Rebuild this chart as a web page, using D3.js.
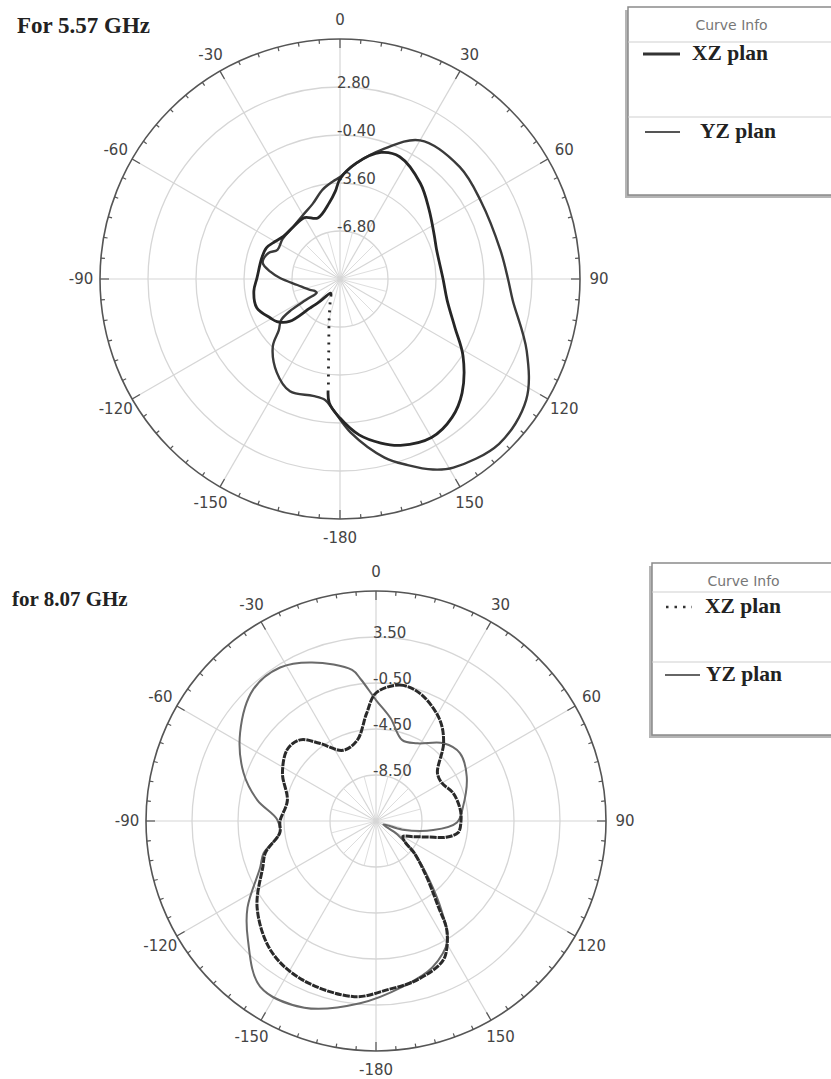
<!DOCTYPE html>
<html>
<head>
<meta charset="utf-8">
<script src="https://cdn.jsdelivr.net/npm/d3@7/dist/d3.min.js"></script>
<style>
  body { margin: 0; background: #fff; }
  svg { display: block; }
</style>
</head>
<body>
<svg id="chart" width="831" height="1079"></svg>
<script>
// rim angles and their labels (degrees, clockwise from top)
const angleTicks = [0, 30, 60, 90, 120, 150, 180, 210, 240, 270, 300, 330];
const angleLabels = ['0', '30', '60', '90', '120', '150', '-180', '-150', '-120', '-90', '-60', '-30'];

// ---- 5.57 GHz ----
const topRange = [-10, 6];
const topRings = [-6.8, -3.6, -0.4, 2.8, 6.0];
const topXZAngles = [0, 8, 18, 26, 40, 52, 65, 73, 90, 101, 113, 122, 133, 141, 150, 160, 166, 173, 180, 185,
  186.5, 189, 195, 205, 213, 222, 226, 230, 236, 241, 251, 262, 271, 285, 293, 300, 307, 318, 330, 340, 352, 357];
const topXZGain = [-3.33, -2.20, -1.13, -0.93, -1.67, -2.47, -3.07, -3.27, -3.13, -2.73, -1.67, -0.33, 1.13, 1.87, 2.20, 1.80, 1.27, 0.47, -0.73, -1.73,
  -3.20, -5.20, -7.20, -8.47, -8.87, -8.00, -7.20, -5.60, -4.93, -4.67, -4.13, -4.20, -4.47, -4.60, -4.67, -5.00, -5.27, -5.33, -5.27, -5.67, -4.87, -4.13];
const topYZAngles = [0, 8, 18, 30, 47, 61, 80, 90, 97, 111, 123, 136, 149, 154, 160, 166, 176, 183, 187, 193, 204,
  214, 225, 230, 235, 237.5, 238.5, 239.5, 245, 250, 262, 271, 276, 282, 290, 295, 305, 318, 330, 340, 349, 356];
const topYZGain = [-3.20, -2.20, -0.93, 0.67, 0.93, 0.73, 0.87, 1.20, 1.60, 3.33, 4.80, 5.27, 4.67, 4.13, 3.20, 2.27, 0.27, -1.27, -1.87, -2.00, -1.80,
  -2.47, -3.67, -4.67, -5.20, -6.13, -7.33, -8.20, -8.13, -7.87, -7.13, -6.00, -5.33, -4.73, -4.93, -5.40, -5.33, -5.33, -5.07, -4.67, -3.93, -3.47];

// ---- 8.07 GHz ----
const botRange = [-12.5, 7.5];
const botRings = [-8.5, -4.5, -0.5, 3.5, 7.5];
const botXZAngles = [0, 10, 19, 32, 41, 52, 60, 70, 82, 90, 98, 103, 107, 113, 120, 126, 130, 138, 144, 147,
  153, 157, 167, 176, 187, 205, 219, 234, 248, 254, 263, 270, 283, 297, 309, 317, 324, 335, 347, 355];
const botXZGain = [-1.37, -0.50, -0.76, -2.07, -3.54, -5.72, -5.89, -5.37, -5.11, -5.11, -5.28, -6.24, -7.72, -9.02, -9.80, -9.37, -8.15, -5.89, -3.28, -1.20,
  0.72, 1.24, 1.85, 2.20, 2.89, 2.72, 2.02, 0.28, -1.89, -2.50, -4.07, -4.15, -4.59, -3.37, -2.59, -2.85, -4.15, -5.72, -5.28, -3.11];
const botYZAngles = [0, 8, 18, 28, 41, 51, 64, 81, 91, 99, 108, 115, 122, 130, 138, 144, 149, 159, 171, 185,
  201, 215, 227, 236, 248, 254, 263, 271, 280, 290, 303, 317, 328, 338, 351, 354];
const botYZGain = [-1.98, -3.46, -5.11, -4.85, -3.54, -3.11, -3.72, -4.85, -5.46, -7.46, -10.07, -11.80, -10.33, -8.15, -5.54, -2.76, -0.41, 1.15, 2.11, 3.41,
  4.89, 5.07, 2.72, 0.98, -1.63, -2.33, -4.07, -3.89, -2.02, -0.24, 1.59, 3.15, 3.24, 2.37, 0.80, -0.15];

const svg = d3.select('#chart');
const rad = Math.PI / 180;

function polar(cx, cy, R, range, rings, series) {
  const g = svg.append('g').attr('transform', 'translate(' + cx + ',' + cy + ')');
  const r = d3.scaleLinear().domain(range).range([0, R]);

  // grid rings
  g.selectAll('.ring').data(rings.slice(0, -1)).enter().append('circle')
    .attr('r', d => r(d))
    .attr('fill', 'none').attr('stroke', '#d6d6d6').attr('stroke-width', 1.3);

  // fine spokes near the centre, 30 deg spokes to the rim
  const fine = d3.range(0, 360, 15).filter(a => a % 30 !== 0);
  g.selectAll('.fine').data(fine).enter().append('line')
    .attr('x1', 0).attr('y1', 0)
    .attr('x2', a => Math.sin(a * rad) * r(rings[0]))
    .attr('y2', a => -Math.cos(a * rad) * r(rings[0]))
    .attr('stroke', '#dedede').attr('stroke-width', 1);
  g.selectAll('.spoke').data(angleTicks).enter().append('line')
    .attr('x1', 0).attr('y1', 0)
    .attr('x2', a => Math.sin(a * rad) * R)
    .attr('y2', a => -Math.cos(a * rad) * R)
    .attr('stroke', '#d6d6d6').attr('stroke-width', 1.2);

  // rim with ticks
  g.append('circle').attr('r', R).attr('fill', 'none').attr('stroke', '#555').attr('stroke-width', 1.6);
  g.selectAll('.tick').data(d3.range(0, 360, 5)).enter().append('line')
    .attr('x1', a => Math.sin(a * rad) * R)
    .attr('y1', a => -Math.cos(a * rad) * R)
    .attr('x2', a => Math.sin(a * rad) * (R - (a % 30 === 0 ? 9 : 4)))
    .attr('y2', a => -Math.cos(a * rad) * (R - (a % 30 === 0 ? 9 : 4)))
    .attr('stroke', '#555').attr('stroke-width', 1.2);

  g.selectAll('.alab').data(angleTicks).enter().append('text')
    .attr('x', a => Math.sin(a * rad) * (R + 19))
    .attr('y', a => -Math.cos(a * rad) * (R + 19))
    .attr('text-anchor', 'middle').attr('dominant-baseline', 'central')
    .attr('font-family', 'DejaVu Sans, sans-serif').attr('font-size', 15)
    .attr('fill', '#444')
    .text((a, i) => angleLabels[i]);

  // ring values
  g.selectAll('.rlab').data(rings.slice(0, -1)).enter().append('text')
    .attr('x', -3).attr('y', d => -r(d) + 1)
    .attr('font-family', 'DejaVu Sans, sans-serif').attr('font-size', 15)
    .attr('fill', '#444')
    .text(d => d.toFixed(2));

  const line = d3.lineRadial()
    .angle(d => d[0] * rad)
    .radius(d => r(d[1]))
    .curve(d3.curveCatmullRomClosed.alpha(0.5));

  series.forEach(s => {
    const path = g.append('path')
      .datum(d3.zip(s.angles, s.gain))
      .attr('d', line)
      .attr('fill', 'none')
      .attr('stroke', s.color)
      .attr('stroke-width', s.width)
      .attr('stroke-dasharray', s.dash || null)
      .attr('stroke-linejoin', 'round');

    // steep drop rendered as sparse dots, the rest solid
    if (s.dotted) {
      const node = path.node();
      const total = node.getTotalLength();
      let start = null, end = null;
      for (let l = 0; l <= total; l += 0.5) {
        const p = node.getPointAtLength(l);
        let a = Math.atan2(p.x, -p.y) / rad;
        if (a < 0) a += 360;
        if (a > s.dotted[0] && a < s.dotted[1]) {
          if (start === null) start = l;
          end = l;
        }
      }
      if (start !== null) {
        const pattern = [start, 0];
        let l = start;
        while (l + 7 < end) { pattern.push(2, 6); l += 8; }
        pattern.push(total - l + 1, 0);
        path.attr('stroke-dasharray', pattern.join(','));
      }
    }
  });
}

function legend(x, y, h, rows) {
  const g = svg.append('g');
  g.append('rect').attr('x', x - 3).attr('y', y + 3).attr('width', 831 - x + 10).attr('height', h)
    .attr('fill', '#b5b5b5');
  g.append('rect').attr('x', x).attr('y', y).attr('width', 831 - x + 10).attr('height', h)
    .attr('fill', '#fff').attr('stroke', '#8a8a8a').attr('stroke-width', 1.5);
  g.append('text').attr('x', x + (831 - x) / 2 + 2).attr('y', y + 23)
    .attr('text-anchor', 'middle')
    .attr('font-family', 'DejaVu Sans, sans-serif').attr('font-size', 14)
    .attr('fill', '#777').text('Curve Info');
  rows.forEach(row => {
    g.append('line').attr('x1', x).attr('x2', 831).attr('y1', row.sep).attr('y2', row.sep)
      .attr('stroke', '#d0d0d0').attr('stroke-width', 1.2);
    g.append('line').attr('x1', row.x1).attr('x2', row.x2).attr('y1', row.y).attr('y2', row.y)
      .attr('stroke', row.color).attr('stroke-width', row.width)
      .attr('stroke-dasharray', row.dash || null);
    g.append('text').attr('x', row.tx).attr('y', row.y + 6)
      .attr('font-family', 'Liberation Serif, Times New Roman, serif').attr('font-weight', 'bold')
      .attr('font-size', 21.5).attr('fill', '#222').text(row.label);
  });
}

svg.append('text').attr('x', 17).attr('y', 33)
  .attr('font-family', 'Liberation Serif, Times New Roman, serif').attr('font-weight', 'bold')
  .attr('font-size', 23).attr('fill', '#222').text('For 5.57 GHz');
svg.append('text').attr('x', 12).attr('y', 606)
  .attr('font-family', 'Liberation Serif, Times New Roman, serif').attr('font-weight', 'bold')
  .attr('font-size', 21).attr('fill', '#222').text('for 8.07 GHz');

polar(340, 279, 240, topRange, topRings, [
  { angles: topYZAngles, gain: topYZGain, color: '#3a3a3a', width: 2.4 },
  { angles: topXZAngles, gain: topXZGain, color: '#262626', width: 2.8, dotted: [186, 212] }
]);
polar(376, 821, 230, botRange, botRings, [
  { angles: botYZAngles, gain: botYZGain, color: '#6a6a6a', width: 2 },
  { angles: botXZAngles, gain: botXZGain, color: '#2a2a2a', width: 3, dash: '7,1' }
]);

legend(628, 7, 188, [
  { sep: 42, y: 54, x1: 643, x2: 680, tx: 692, color: '#333', width: 3, label: 'XZ plan' },
  { sep: 117, y: 132, x1: 645, x2: 680, tx: 700, color: '#555', width: 2, label: 'YZ plan' }
]);
legend(652, 563, 172, [
  { sep: 592, y: 607, x1: 666, x2: 692, tx: 705, color: '#333', width: 2.5, dash: '2.5,6', label: 'XZ plan' },
  { sep: 662, y: 675, x1: 665, x2: 700, tx: 706, color: '#666', width: 2, label: 'YZ plan' }
]);
</script>
</body>
</html>
